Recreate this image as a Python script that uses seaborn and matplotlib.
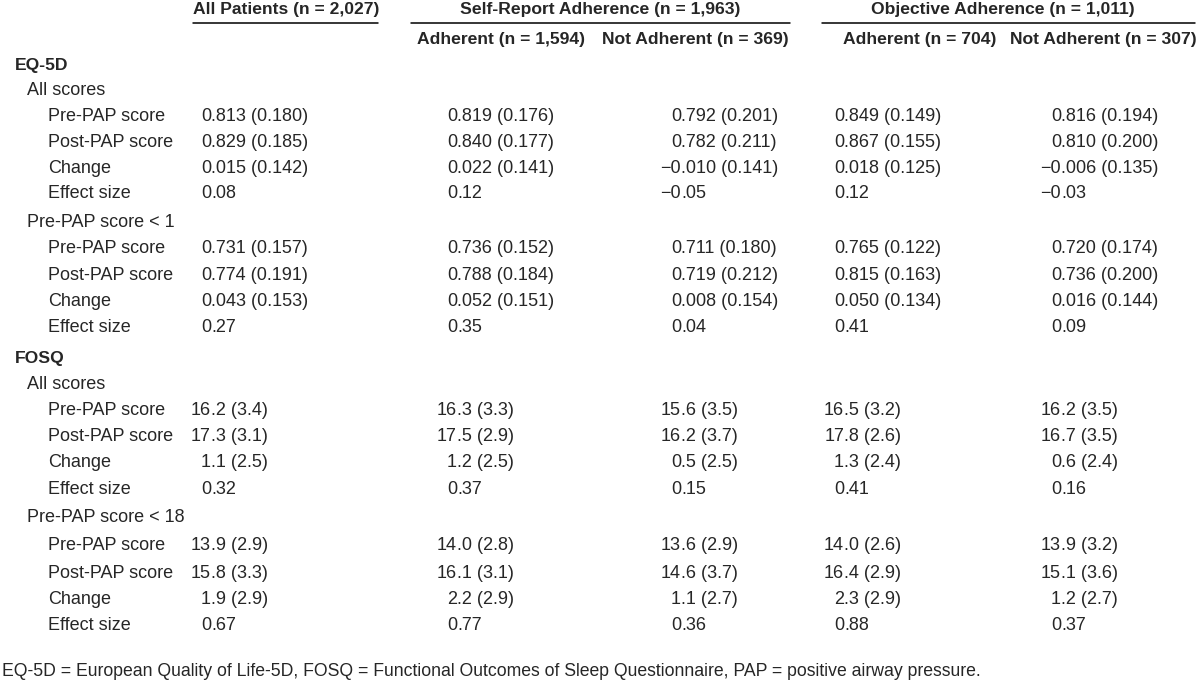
import matplotlib
matplotlib.use("Agg")
import matplotlib.pyplot as plt
import seaborn as sns

# Row labels (indent level, text)
row_labels = [
    (0, "EQ-5D"), (1, "All scores"),
    (2, "Pre-PAP score"), (2, "Post-PAP score"), (2, "Change"), (2, "Effect size"),
    (1, "Pre-PAP score < 1"),
    (2, "Pre-PAP score"), (2, "Post-PAP score"), (2, "Change"), (2, "Effect size"),
    (0, "FOSQ"), (1, "All scores"),
    (2, "Pre-PAP score"), (2, "Post-PAP score"), (2, "Change"), (2, "Effect size"),
    (1, "Pre-PAP score < 18"),
    (2, "Pre-PAP score"), (2, "Post-PAP score"), (2, "Change"), (2, "Effect size"),
]

# Column values, one entry per row ("" for section rows)
all_patients = ["", "", "0.813 (0.180)", "0.829 (0.185)", "0.015 (0.142)", "0.08",
                "", "0.731 (0.157)", "0.774 (0.191)", "0.043 (0.153)", "0.27",
                "", "", "16.2 (3.4)", "17.3 (3.1)", "1.1 (2.5)", "0.32",
                "", "13.9 (2.9)", "15.8 (3.3)", "1.9 (2.9)", "0.67"]
sr_adherent = ["", "", "0.819 (0.176)", "0.840 (0.177)", "0.022 (0.141)", "0.12",
               "", "0.736 (0.152)", "0.788 (0.184)", "0.052 (0.151)", "0.35",
               "", "", "16.3 (3.3)", "17.5 (2.9)", "1.2 (2.5)", "0.37",
               "", "14.0 (2.8)", "16.1 (3.1)", "2.2 (2.9)", "0.77"]
sr_not_adherent = ["", "", "0.792 (0.201)", "0.782 (0.211)", "\u22120.010 (0.141)", "\u22120.05",
                   "", "0.711 (0.180)", "0.719 (0.212)", "0.008 (0.154)", "0.04",
                   "", "", "15.6 (3.5)", "16.2 (3.7)", "0.5 (2.5)", "0.15",
                   "", "13.6 (2.9)", "14.6 (3.7)", "1.1 (2.7)", "0.36"]
obj_adherent = ["", "", "0.849 (0.149)", "0.867 (0.155)", "0.018 (0.125)", "0.12",
                "", "0.765 (0.122)", "0.815 (0.163)", "0.050 (0.134)", "0.41",
                "", "", "16.5 (3.2)", "17.8 (2.6)", "1.3 (2.4)", "0.41",
                "", "14.0 (2.6)", "16.4 (2.9)", "2.3 (2.9)", "0.88"]
obj_not_adherent = ["", "", "0.816 (0.194)", "0.810 (0.200)", "\u22120.006 (0.135)", "\u22120.03",
                    "", "0.720 (0.174)", "0.736 (0.200)", "0.016 (0.144)", "0.09",
                    "", "", "16.2 (3.5)", "16.7 (3.5)", "0.6 (2.4)", "0.16",
                    "", "13.9 (3.2)", "15.1 (3.6)", "1.2 (2.7)", "0.37"]

group_headers = ["All Patients (n = 2,027)", "Self-Report Adherence (n = 1,963)",
                 "Objective Adherence (n = 1,011)"]
sub_headers = ["Adherent (n = 1,594)", "Not Adherent (n = 369)",
               "Adherent (n = 704)", "Not Adherent (n = 307)"]
footnote = ("EQ-5D = European Quality of Life-5D, FOSQ = Functional Outcomes of Sleep "
            "Questionnaire, PAP = positive airway pressure.")

sns.set_theme(style="white")
plt.rcParams["font.family"] = ["Liberation Sans Narrow", "Liberation Sans", "DejaVu Sans"]
FS = 13
HFS = 12.6

fig = plt.figure(figsize=(12, 6.85), dpi=100)
ax = fig.add_axes([0, 0, 1, 1])
ax.set_xlim(0, 1200)
ax.set_ylim(685, 0)
ax.axis("off")

# layout in pixel units
row_y = [65, 90, 116, 142, 168, 193, 222, 248, 275, 301, 327,
         358, 384, 410, 436, 462, 489, 518, 545, 573, 600, 626]
indent_x = [15, 27, 48]
dec_x = [211, 457, 681, 844, 1061]
columns = [all_patients, sr_adherent, sr_not_adherent, obj_adherent, obj_not_adherent]

# group headers with underlines
group_spans = [(193, 378), (411, 790), (822, 1195)]
group_cx = [286, 600, 1003]
for text, (x0, x1), cx in zip(group_headers, group_spans, group_cx):
    ax.text(cx, 9, text, ha="center", va="center", fontsize=HFS, fontweight="bold")
    ax.plot([x0, x1], [23, 23], color="black", lw=1.1)

sub_x = [501, 695, 920, 1103]
for text, x in zip(sub_headers, sub_x):
    ax.text(x, 39, text, ha="center", va="center", fontsize=HFS, fontweight="bold")

for (lvl, lab), y in zip(row_labels, row_y):
    ax.text(indent_x[lvl], y, lab, ha="left", va="center",
            fontsize=HFS if lvl == 0 else FS,
            fontweight="bold" if lvl == 0 else "normal")

# decimal-aligned values
for col, xd in zip(columns, dec_x):
    for val, y in zip(col, row_y):
        if not val:
            continue
        head, tail = val.split(".", 1)
        ax.text(xd, y, head, ha="right", va="center", fontsize=FS)
        ax.text(xd, y, "." + tail, ha="left", va="center", fontsize=FS)

ax.text(2, 672, footnote, ha="left", va="center", fontsize=12.7)

fig.savefig("out.png", dpi=100)
